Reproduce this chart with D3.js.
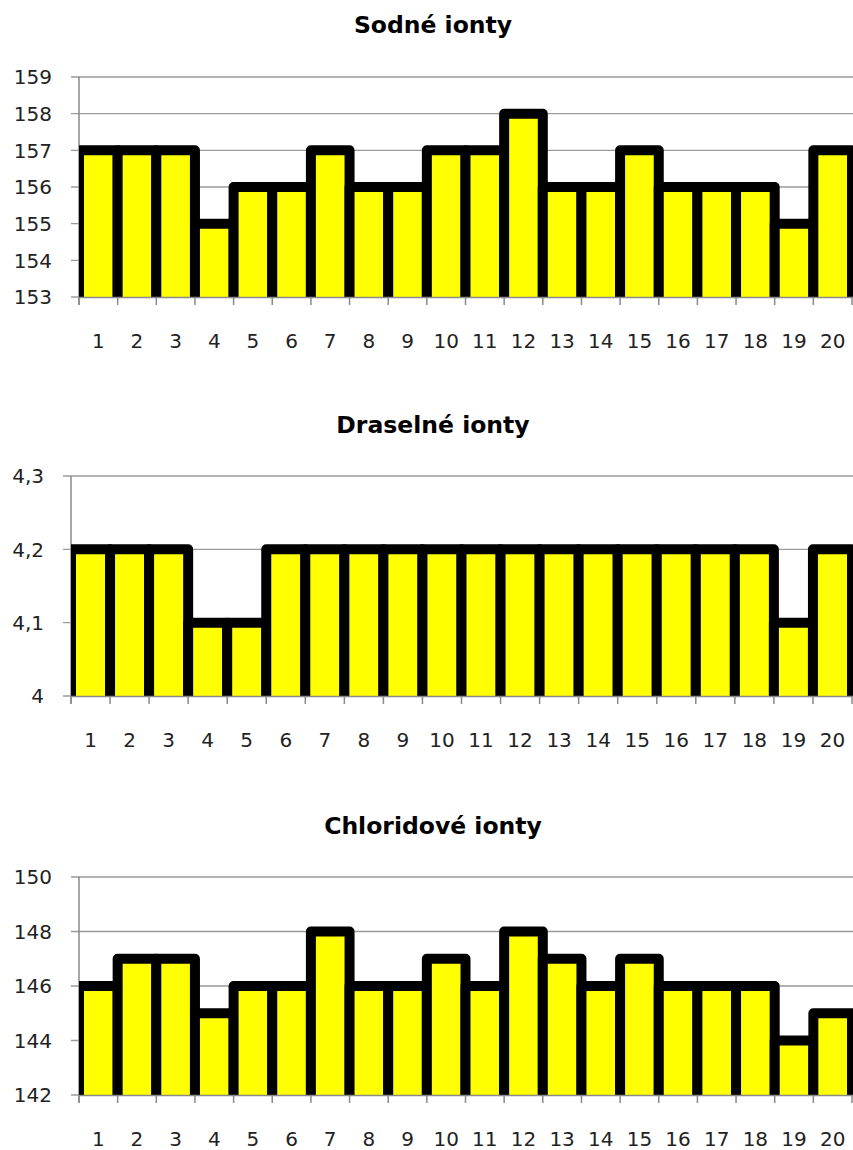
<!DOCTYPE html>
<html><head><meta charset="utf-8">
<script src="https://cdn.jsdelivr.net/npm/d3@7"></script>
<style>
html,body{margin:0;padding:0;background:#fff;}
svg{display:block;}
</style></head>
<body>
<script>
// ---- data ----
const categories = d3.range(1, 21).map(String);
const sodneValues = [157,157,157,155,156,156,157,156,156,157,157,158,156,156,157,156,156,156,155,157];
const draselneValues = [4.2,4.2,4.2,4.1,4.1,4.2,4.2,4.2,4.2,4.2,4.2,4.2,4.2,4.2,4.2,4.2,4.2,4.2,4.1,4.2];
const chloridoveValues = [146,147,147,145,146,146,148,146,146,147,146,148,147,146,147,146,146,146,144,145];
const sodneTicks = [153,154,155,156,157,158,159];
const draselneTicks = [4.0,4.1,4.2,4.3];
const chloridoveTicks = [142,144,146,148,150];
const titles = ["Sodné ionty", "Draselné ionty", "Chloridové ionty"];

// ---- layout ----
const W = 853, H = 1150;
const panels = [
  {title: titles[0], values: sodneValues, ticks: sodneTicks, domain: [153,159],
   left: 79, right: 852, top: 77, bottom: 297, titleY: 33, fmt: d => String(d)},
  {title: titles[1], values: draselneValues, ticks: draselneTicks, domain: [4.0,4.3],
   left: 71, right: 852, top: 476, bottom: 696, titleY: 433, fmt: d => d === 4 ? "4" : d3.format(".1f")(d).replace(".", ",")},
  {title: titles[2], values: chloridoveValues, ticks: chloridoveTicks, domain: [142,150],
   left: 79, right: 852, top: 877, bottom: 1095, titleY: 834, fmt: d => String(d)}
];

const svg = d3.select("body").append("svg").attr("width", W).attr("height", H);
const font = "'DejaVu Sans', Verdana, sans-serif";

panels.forEach((p, i) => {
  const x = d3.scaleBand().domain(categories).range([p.left, p.right]).padding(0);
  const y = d3.scaleLinear().domain(p.domain).range([p.bottom, p.top]);
  const g = svg.append("g");

  // title
  g.append("text")
    .attr("x", 433).attr("y", p.titleY)
    .attr("text-anchor", "middle")
    .attr("font-family", font).attr("font-weight", "bold")
    .attr("font-size", 23.5).attr("fill", "#000")
    .text(p.title);

  // gridlines
  g.selectAll(".grid").data(p.ticks).enter().append("line")
    .attr("x1", p.left - 8).attr("x2", p.right + 2)
    .attr("y1", d => y(d)).attr("y2", d => y(d))
    .attr("stroke", "#9a9a9a").attr("stroke-width", 1.3);

  // y-axis line
  g.append("line")
    .attr("x1", p.left).attr("x2", p.left)
    .attr("y1", p.top).attr("y2", p.bottom + 8)
    .attr("stroke", "#8a8a8a").attr("stroke-width", 1.5);

  // x tick marks
  g.selectAll(".xt").data(categories.concat(["end"])).enter().append("line")
    .attr("x1", (d, k) => p.left + k * x.bandwidth())
    .attr("x2", (d, k) => p.left + k * x.bandwidth())
    .attr("y1", p.bottom).attr("y2", p.bottom + 8)
    .attr("stroke", "#8a8a8a").attr("stroke-width", 1.5);

  // y labels
  g.selectAll(".yl").data(p.ticks).enter().append("text")
    .attr("x", p.left - 27).attr("y", d => y(d))
    .attr("dy", "0.36em").attr("text-anchor", "end")
    .attr("font-family", font).attr("font-size", 20).attr("fill", "#222")
    .text(p.fmt);

  // x labels
  g.selectAll(".xl").data(categories).enter().append("text")
    .attr("x", d => x(d) + x.bandwidth() / 2).attr("y", p.bottom + 44)
    .attr("dy", "0.36em").attr("text-anchor", "middle")
    .attr("font-family", font).attr("font-size", 20).attr("fill", "#222")
    .text(d => d);

  // clip
  const cid = "clip" + i;
  svg.append("clipPath").attr("id", cid).append("rect")
    .attr("x", p.left).attr("y", p.top - 20)
    .attr("width", p.right - p.left + 1).attr("height", p.bottom - p.top + 20);

  // bars
  g.append("g").attr("clip-path", `url(#${cid})`)
    .selectAll("rect").data(p.values).enter().append("rect")
    .attr("x", (d, k) => x(categories[k]))
    .attr("width", x.bandwidth())
    .attr("y", d => y(d))
    .attr("height", d => p.bottom - y(d) + 10)
    .attr("fill", "#ffff00")
    .attr("stroke", "#000").attr("stroke-width", 10)
    .attr("stroke-linejoin", "round");

  // bottom axis line
  g.append("line")
    .attr("x1", p.left).attr("x2", p.right + 2)
    .attr("y1", p.bottom + 0.5).attr("y2", p.bottom + 0.5)
    .attr("stroke", "#8a8a8a").attr("stroke-width", 1.5);
});
</script>
</body></html>
